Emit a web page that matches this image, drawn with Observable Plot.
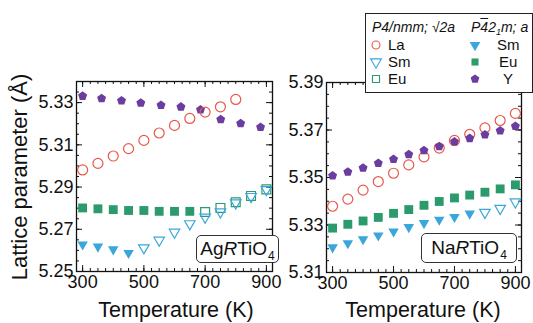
<!DOCTYPE html>
<html><head><meta charset="utf-8">
<script src="https://cdn.jsdelivr.net/npm/d3@7"></script>
<script src="https://cdn.jsdelivr.net/npm/@observablehq/plot@0.6"></script>
<style>
body{margin:0;background:#fff;font-family:"Liberation Sans",Arial,sans-serif;}
#wrap{position:relative;width:533px;height:323px;overflow:hidden;}
#wrap svg.plot{position:absolute;top:0;}
.title{position:absolute;font-size:21.5px;color:#111;white-space:nowrap;}
.box{position:absolute;border:1px solid #333;border-radius:5px;background:#fff;font-size:19px;display:flex;align-items:center;justify-content:center;color:#111;}
.box .sub{font-size:12px;position:relative;top:7px;margin-left:1px;}
#legend{position:absolute;left:365px;top:13px;width:166px;height:78px;border:1px solid #222;background:#fff;font-size:14px;color:#111;}
#legend .it{position:absolute;white-space:nowrap;line-height:15px;}
#legend svg{position:absolute;}
</style></head>
<body><div id="wrap"></div>
<script>
// ---- data ----
const tempsAgLa = [300,350,400,450,500,550,600,650,700,750,800];
const agLa = [5.2981,5.3012,5.3047,5.3082,5.3121,5.3156,5.3192,5.3225,5.3255,5.3280,5.3315];
const tempsAgSmTet = [500,550,600,650,700,750,800,850,900];
const agSmTet = [5.2612,5.2648,5.2686,5.2726,5.2757,5.2782,5.2825,5.2855,5.2888];
const tempsAgSmOrth = [300,350,400,450];
const agSmOrth = [5.2628,5.2618,5.2605,5.2588];
const tempsAgEuTet = [700,750,800,850,900];
const agEuTet = [5.2782,5.2801,5.2828,5.2858,5.2889];
const tempsAgEuOrth = [300,350,400,450,500,550,600,650];
const agEuOrth = [5.2801,5.2797,5.2793,5.2789,5.2789,5.2785,5.2785,5.2785];
const tempsAgY = [300,362,427,490,556,621,685,751,816,881];
const agY = [5.3331,5.3320,5.3309,5.3298,5.3288,5.3280,5.3266,5.3220,5.3201,5.3184];

const tempsNa = [300,350,400,450,500,550,600,650,700,750,800,850,900];
const naLa = [5.3379,5.3409,5.3447,5.3483,5.3518,5.3553,5.3587,5.3624,5.3656,5.3682,5.3709,5.3740,5.3770];
const naY = [5.3508,5.3523,5.3540,5.3560,5.3577,5.3597,5.3614,5.3631,5.3651,5.3665,5.3680,5.3697,5.3716];
const naEu = [5.3287,5.3303,5.3317,5.3332,5.3349,5.3365,5.3383,5.3399,5.3414,5.3426,5.3438,5.3452,5.3469];
const tempsNaSmOrth = [300,350,400,450,500,550,600,650,700,750];
const naSmOrth = [5.3206,5.3223,5.3240,5.3256,5.3273,5.3291,5.3308,5.3322,5.3334,5.3348];
const tempsNaSmTet = [800,850,900];
const naSmTet = [5.3353,5.3370,5.3397];

const xTicks = [300,500,700,900];
const xMinor = d3.range(300, 901, 25);
const yTicksAg = [5.25,5.27,5.29,5.31,5.33];
const yTicksNa = [5.31,5.33,5.35,5.37,5.39];

const colors = {La:"#e8584a", Sm:"#3aa6dc", Eu:"#2b9a6c", Y:"#6a3d9f"};

// ---- symbols ----
const triDown = {draw(ctx, size){ const y = -Math.sqrt(size/(Math.sqrt(3)*3)); ctx.moveTo(0,-2*y); ctx.lineTo(-Math.sqrt(3)*y, y); ctx.lineTo(Math.sqrt(3)*y, y); ctx.closePath(); }};
const pentagon = {draw(ctx, size){ const R = Math.sqrt(size/(2.5*Math.sin(72*Math.PI/180))); for(let k=0;k<5;k++){const a=(-90+72*k)*Math.PI/180; const px=R*Math.cos(a), py=R*Math.sin(a); if(k===0) ctx.moveTo(px,py); else ctx.lineTo(px,py);} ctx.closePath(); }};

function frameMarks(plotW, plotH, yTicks, yMinor){
  const id = d => d;
  const s = {stroke:"#111", strokeWidth:1};
  return [
    Plot.tickX(xTicks, {x:id, insetTop:plotH-6, ...s}),
    Plot.tickX(xMinor, {x:id, insetTop:plotH-3, ...s}),
    Plot.tickX(xTicks, {x:id, insetBottom:plotH-6, ...s}),
    Plot.tickX(xMinor, {x:id, insetBottom:plotH-3, ...s}),
    Plot.tickY(yTicks, {y:id, insetRight:plotW-6, ...s}),
    Plot.tickY(yMinor, {y:id, insetRight:plotW-3, ...s}),
    Plot.tickY(yTicks, {y:id, insetLeft:plotW-6, ...s}),
    Plot.tickY(yMinor, {y:id, insetLeft:plotW-3, ...s}),
    Plot.frame({stroke:"#111", strokeWidth:1.3}),
    Plot.axisX({anchor:"bottom", ticks:xTicks, tickSize:0, tickPadding:4, tickFormat:d3.format("d"), label:null, fill:"#111"}),
    Plot.axisY({anchor:"left", ticks:yTicks, tickSize:0, tickPadding:3, tickFormat:d3.format(".2f"), label:null, fill:"#111"})
  ];
}

const style = {fontFamily:"Liberation Sans, Arial, sans-serif", fontSize:"18px", background:"transparent", overflow:"visible"};

const L = {width:290, height:323, marginLeft:76, marginRight:18, marginTop:81, marginBottom:52};
const left = Plot.plot({
  ...L, x:{domain:[280,920]}, y:{domain:[5.25,5.34]}, style,
  marks:[
    ...frameMarks(L.width-L.marginLeft-L.marginRight, L.height-L.marginTop-L.marginBottom, yTicksAg, d3.range(5.25, 5.3401, 0.005)),
    Plot.dot(agEuOrth, {x:tempsAgEuOrth, y:agEuOrth, symbol:"square", r:5, fill:colors.Eu, stroke:"none"}),
    Plot.dot(agEuTet, {x:tempsAgEuTet, y:agEuTet, symbol:"square", r:5, fill:"none", stroke:colors.Eu, strokeWidth:1.2}),
    Plot.dot(agSmOrth, {x:tempsAgSmOrth, y:agSmOrth, symbol:triDown, r:3.9, fill:colors.Sm, stroke:"none"}),
    Plot.dot(agSmTet, {x:tempsAgSmTet, y:agSmTet, symbol:triDown, r:3.9, fill:"none", stroke:colors.Sm, strokeWidth:1.2}),
    Plot.dot(agY, {x:tempsAgY, y:agY, symbol:pentagon, r:4.1, fill:colors.Y, stroke:"none"}),
    Plot.dot(agLa, {x:tempsAgLa, y:agLa, symbol:"circle", r:5, fill:"none", stroke:colors.La, strokeWidth:1.2})
  ]
});
left.classList.add("plot"); left.style.left = "0px";

const R = {width:243, height:323, marginLeft:36, marginRight:12, marginTop:82, marginBottom:51};
const right = Plot.plot({
  ...R, x:{domain:[280,920]}, y:{domain:[5.31,5.39]}, style,
  marks:[
    ...frameMarks(R.width-R.marginLeft-R.marginRight, R.height-R.marginTop-R.marginBottom, yTicksNa, d3.range(5.31, 5.3901, 0.005)),
    Plot.dot(naEu, {x:tempsNa, y:naEu, symbol:"square", r:5, fill:colors.Eu, stroke:"none"}),
    Plot.dot(naSmOrth, {x:tempsNaSmOrth, y:naSmOrth, symbol:triDown, r:3.9, fill:colors.Sm, stroke:"none"}),
    Plot.dot(naSmTet, {x:tempsNaSmTet, y:naSmTet, symbol:triDown, r:3.9, fill:"none", stroke:colors.Sm, strokeWidth:1.2}),
    Plot.dot(naLa, {x:tempsNa, y:naLa, symbol:"circle", r:5, fill:"none", stroke:colors.La, strokeWidth:1.2}),
    Plot.dot(naY, {x:tempsNa, y:naY, symbol:pentagon, r:4.1, fill:colors.Y, stroke:"none"})
  ]
});
right.classList.add("plot"); right.style.left = "290px";

const wrap = document.getElementById("wrap");
wrap.appendChild(left);
wrap.appendChild(right);

function addHTML(html){ wrap.insertAdjacentHTML("beforeend", html); }
addHTML(`<div class="title" style="left:20px;top:177px;font-size:22px;transform:translate(-50%,-50%) rotate(-90deg);">Lattice parameter (Å)</div>`);
addHTML(`<div class="title" style="left:176px;top:310px;transform:translate(-50%,-50%);">Temperature (K)</div>`);
addHTML(`<div class="title" style="left:423px;top:310px;transform:translate(-50%,-50%);">Temperature (K)</div>`);
addHTML(`<div class="box" style="left:196px;top:235px;width:81px;height:26px;"><span>Ag<i>R</i>TiO</span><span class="sub">4</span></div>`);
addHTML(`<div class="box" style="left:421px;top:233px;width:94px;height:28px;"><span>Na<i>R</i>TiO</span><span class="sub">4</span></div>`);

// legend
function sym(type, size){ return d3.symbol().type(type).size(size)(); }
const legendItems = [
  {col:0,row:0,label:"La",type:d3.symbolCircle,filled:false,color:colors.La},
  {col:0,row:1,label:"Sm",type:triDown,filled:false,color:colors.Sm},
  {col:0,row:2,label:"Eu",type:d3.symbolSquare,filled:false,color:colors.Eu},
  {col:1,row:0,label:"Sm",type:triDown,filled:true,color:colors.Sm},
  {col:1,row:1,label:"Eu",type:d3.symbolSquare,filled:true,color:colors.Eu},
  {col:1,row:2,label:"Y",type:pentagon,filled:true,color:colors.Y}
];
let lg = `<div id="legend">
<div class="it" style="left:6px;top:6px;font-style:italic;">P4/nmm; √2a</div>
<div class="it" style="left:105px;top:6px;font-style:italic;">P<span style="text-decoration:overline">4</span>2<span style="font-size:9px;position:relative;top:3px;line-height:0">1</span>m; a</div>`;
legendItems.forEach(d=>{
  const cx = d.col===0 ? 10 : 109, cy = 31 + d.row*17;
  const path = sym(d.type, 50);
  lg += `<svg width="14" height="14" style="left:${cx-7}px;top:${cy-7}px"><path transform="translate(7,7)" d="${path}" fill="${d.filled?d.color:"none"}" stroke="${d.filled?"none":d.color}" stroke-width="1.1"/></svg>`;
  const tx = d.col===0 ? 22 : 131 - (d.label==="Sm"?0:(d.label==="Eu"?-2:-6));
  lg += `<div class="it" style="left:${tx}px;top:${cy-8}px;font-size:15px;line-height:16px">${d.label}</div>`;
});
lg += `</div>`;
addHTML(lg);
</script></body></html>
